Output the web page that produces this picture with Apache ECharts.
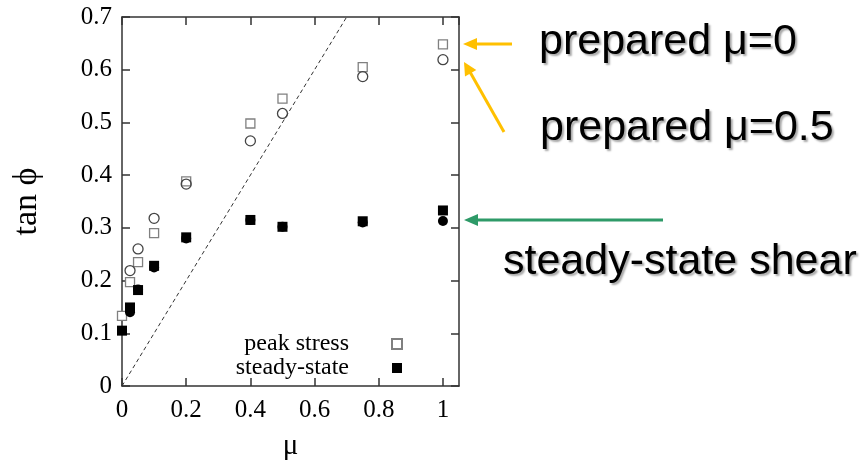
<!DOCTYPE html>
<html>
<head>
<meta charset="utf-8">
<script src="https://cdn.jsdelivr.net/npm/echarts@6/dist/echarts.min.js"></script>
<style>html,body{margin:0;padding:0;background:#fff;}#c{width:860px;height:463px;}</style>
</head>
<body>
<div id="c"></div>
<script>
// ---- data ----
const mu = [0, 0.025, 0.05, 0.1, 0.2, 0.4, 0.5, 0.75, 1];
const peakMu0 = [0.133, 0.197, 0.235, 0.29, 0.388, 0.498, 0.545, 0.605, 0.648];
const peakMu05 = [null, 0.219, 0.26, 0.318, 0.383, 0.465, 0.517, 0.587, 0.619];
const steadyMu0 = [0.105, 0.149, 0.182, 0.228, 0.282, 0.315, 0.302, 0.3125, 0.333];
const steadyMu05 = [null, 0.14, 0.183, 0.225, 0.28, 0.315, 0.302, 0.31, 0.313];
const lineMu = [0, 0.7];
const lineTan = [0, 0.7];
const xTicks = [0, 0.2, 0.4, 0.6, 0.8, 1];
const yTicks = [0, 0.1, 0.2, 0.3, 0.4, 0.5, 0.6, 0.7];

function pairs(xs, ys) {
  const out = [];
  xs.forEach((x, i) => { if (ys[i] !== null && ys[i] !== undefined) out.push([x, ys[i]]); });
  return out;
}

const serif = 'Liberation Serif';
const axisCol = '#333';
const chart = echarts.init(document.getElementById('c'));

const baseX = {
  type: 'value', min: 0, max: 1.05, interval: 0.2,
  axisLine: { show: true, onZero: false, lineStyle: { color: axisCol, width: 1.5 } },
  axisTick: { show: true, inside: true, length: 8, lineStyle: { color: axisCol, width: 1.5 } },
  splitLine: { show: false }
};
const baseY = {
  type: 'value', min: 0, max: 0.7, interval: 0.1,
  axisLine: { show: true, onZero: false, lineStyle: { color: axisCol, width: 1.5 } },
  axisTick: { show: true, inside: true, length: 8, lineStyle: { color: axisCol, width: 1.5 } },
  splitLine: { show: false }
};

const sans = 'Liberation Sans';
const annText = (txt, x, y) => ({
  type: 'text', left: x, top: y,
  style: {
    text: txt, fill: '#000', font: '43px "' + sans + '"',
    textShadowColor: 'rgba(0,0,0,0.35)', textShadowOffsetX: 2, textShadowOffsetY: 2, textShadowBlur: 2
  }
});

chart.setOption({
  animation: false,
  backgroundColor: '#fff',
  grid: { left: 122, right: 401, top: 17, bottom: 77, containLabel: false, outerBoundsMode: 'none' },
  xAxis: [
    Object.assign({}, baseX, {
      position: 'bottom',
      name: 'μ', nameLocation: 'middle', nameGap: 46,
      nameTextStyle: { fontFamily: serif, fontSize: 29, color: '#000' },
      axisLabel: {
        show: true, margin: 12, fontFamily: serif, fontSize: 25, color: '#000', showMaxLabel: false,
        formatter: v => (xTicks.some(t => Math.abs(t - v) < 1e-9) ? String(Math.round(v * 10) / 10) : '')
      }
    }),
    Object.assign({}, baseX, { position: 'top', axisLabel: { show: false } })
  ],
  yAxis: [
    Object.assign({}, baseY, {
      position: 'left',
      name: 'tan ϕ', nameLocation: 'middle', nameGap: 78, nameRotate: 90,
      nameTextStyle: { fontFamily: serif, fontSize: 34, color: '#000' },
      axisLabel: {
        show: true, margin: 10, fontFamily: serif, fontSize: 25, color: '#000',
        formatter: v => (yTicks.some(t => Math.abs(t - v) < 1e-9) ? (v === 0 ? '0' : v.toFixed(1)) : '')
      }
    }),
    Object.assign({}, baseY, { position: 'right', axisLabel: { show: false } })
  ],
  legend: {
    orient: 'vertical', align: 'right', right: 452, top: 327, itemGap: 0,
    itemWidth: 10, itemHeight: 10,
    data: ['peak stress', 'steady-state'],
    textStyle: { fontFamily: serif, fontSize: 24, lineHeight: 22, color: '#000', padding: [0, 38, 0, 0] },
    selectedMode: false
  },
  series: [
    {
      name: 'tanϕ = μ', type: 'line', data: pairs(lineMu, lineTan), symbol: 'none',
      lineStyle: { color: '#333', width: 1, type: [4, 3] }, silent: true, z: 1
    },
    {
      name: 'peak stress', type: 'scatter', data: pairs(mu, peakMu0), symbol: 'rect', symbolSize: 9,
      itemStyle: { color: '#fff', borderColor: '#808080', borderWidth: 1.3, opacity: 1 }, z: 3
    },
    {
      name: 'peak stress (μ=0.5)', type: 'scatter', data: pairs(mu, peakMu05), symbol: 'circle', symbolSize: 10,
      itemStyle: { color: 'rgba(255,255,255,0)', borderColor: '#444', borderWidth: 1.3, opacity: 1 }, z: 4
    },
    {
      name: 'steady-state', type: 'scatter', data: pairs(mu, steadyMu0), symbol: 'rect', symbolSize: 10,
      itemStyle: { color: '#000', opacity: 1 }, z: 3
    },
    {
      name: 'steady-state (μ=0.5)', type: 'scatter', data: pairs(mu, steadyMu05), symbol: 'circle', symbolSize: 10,
      itemStyle: { color: '#000', opacity: 1 }, z: 3
    }
  ],
  graphic: [
    annText('prepared μ=0', 539, 21),
    annText('prepared μ=0.5', 540, 107),
    annText('steady-state shear', 503, 241),
    { type: 'line', shape: { x1: 512, y1: 44, x2: 474, y2: 44 }, style: { stroke: '#FFC000', lineWidth: 3 } },
    { type: 'polygon', shape: { points: [[463, 44], [477, 38], [477, 50]] }, style: { fill: '#FFC000' } },
    { type: 'line', shape: { x1: 504, y1: 132, x2: 470, y2: 72 }, style: { stroke: '#FFC000', lineWidth: 3 } },
    { type: 'polygon', shape: { points: [[464, 62], [476.3, 70], [465, 76.5]] }, style: { fill: '#FFC000' } },
    { type: 'line', shape: { x1: 663, y1: 220, x2: 475, y2: 220 }, style: { stroke: '#2E9A68', lineWidth: 3 } },
    { type: 'polygon', shape: { points: [[464, 220], [478, 214], [478, 226]] }, style: { fill: '#2E9A68' } }
  ]
});
</script>
</body>
</html>
